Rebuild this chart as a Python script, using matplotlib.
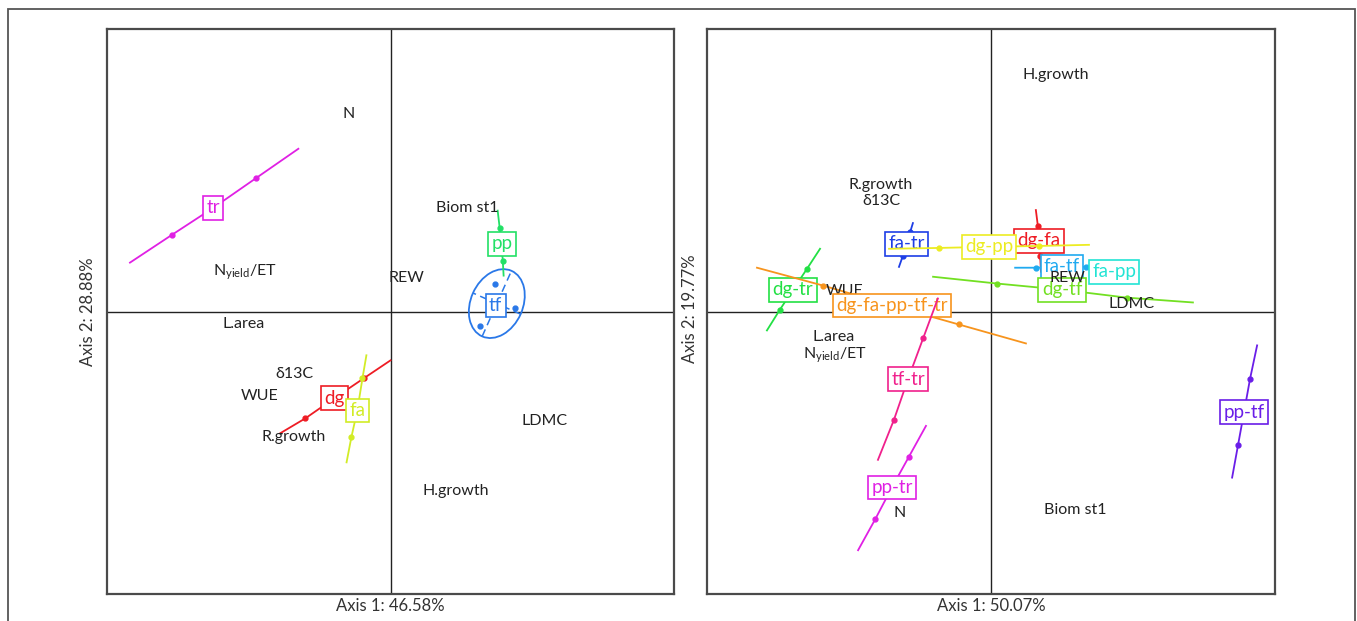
import matplotlib
matplotlib.use("Agg")
import matplotlib.pyplot as plt
from matplotlib.patches import Ellipse, Rectangle
import numpy as np

plt.rcParams['font.family'] = ['Lato', 'DejaVu Sans']
plt.rcParams['mathtext.default'] = 'regular'

# ---------------- Left panel (single species) ----------------
left_axis_x = "Axis 1: 46.58%"
left_axis_y = "Axis 2: 28.88%"

left_vars = ["N", "N$_{yield}$/ET", "REW", "L.area", "\u03b413C", "WUE",
             "R.growth", "LDMC", "H.growth", "Biom st1"]
left_var_x = [-0.148, -0.512, 0.057, -0.519, -0.339, -0.463, -0.343, 0.544, 0.230, 0.269]
left_var_y = [0.700, 0.138, 0.120, -0.046, -0.223, -0.300, -0.445, -0.389, -0.636, 0.367]

# each segment: start, dot, centre, dot, end
left_groups = ["tr", "dg", "fa", "pp"]
left_colors = ["#e020e4", "#ee1c24", "#d2ec26", "#22e066"]
left_seg_x = [
    [-0.919, -0.770, -0.625, -0.473, -0.325],
    [-0.389, -0.300, -0.198, -0.095, 0.000],
    [-0.155, -0.138, -0.117, -0.099, -0.085],
    [0.378, 0.385, 0.392, 0.396, 0.399],
]
left_seg_y = [
    [0.173, 0.272, 0.367, 0.473, 0.576],
    [-0.431, -0.378, -0.307, -0.237, -0.173],
    [-0.534, -0.445, -0.350, -0.237, -0.155],
    [0.357, 0.297, 0.240, 0.180, 0.127],
]

# tf: dispersion ellipse with its three points
tf_label = "tf"
tf_color = "#2a78e8"
tf_center = (0.375, 0.028)
tf_axes = (0.254, 0.184)
tf_angle = 66
tf_pts_x = [0.367, 0.438, 0.314]
tf_pts_y = [0.099, 0.014, -0.053]
tf_label_xy = (0.371, 0.021)

# ---------------- Right panel (species mixtures) ----------------
right_axis_x = "Axis 1: 50.07%"
right_axis_y = "Axis 2: 19.77%"

right_vars = ["H.growth", "R.growth", "\u03b413C", "WUE", "REW", "LDMC",
              "L.area", "N$_{yield}$/ET", "N", "Biom st1"]
right_var_x = [0.229, -0.387, -0.387, -0.514, 0.268, 0.496, -0.553, -0.549, -0.320, 0.296]
right_var_y = [0.838, 0.447, 0.391, 0.074, 0.120, 0.025, -0.092, -0.155, -0.715, -0.704]

right_groups = ["fa-tr", "dg-fa", "dg-pp", "fa-tf", "fa-pp", "dg-tf", "dg-tr",
                "dg-fa-pp-tf-tr", "tf-tr", "pp-tr", "pp-tf"]
right_colors = ["#1e3ee6", "#ee1c24", "#ecec22", "#20aaf0", "#22e4d4", "#72e022",
                "#22e044", "#f7941d", "#f0208c", "#e020e4", "#6a1ee8"]
right_seg_x = [
    [-0.275, -0.285, -0.296, -0.310, -0.324],
    [0.158, 0.165, 0.169, 0.173, 0.176],
    [-0.359, -0.183, -0.007, 0.169, 0.345],
    [0.085, 0.158, 0.250, 0.335, 0.415],
    [0.370, 0.400, 0.433, 0.466, 0.500],
    [-0.204, 0.021, 0.250, 0.479, 0.711],
    [-0.602, -0.648, -0.697, -0.743, -0.789],
    [-0.824, -0.592, -0.349, -0.113, 0.123],
    [-0.187, -0.239, -0.292, -0.342, -0.398],
    [-0.229, -0.289, -0.349, -0.408, -0.468],
    [0.937, 0.912, 0.891, 0.870, 0.849],
]
right_seg_y = [
    [0.313, 0.280, 0.239, 0.198, 0.158],
    [0.359, 0.303, 0.250, 0.197, 0.141],
    [0.222, 0.225, 0.229, 0.232, 0.236],
    [0.155, 0.155, 0.158, 0.158, 0.158],
    [0.141, 0.141, 0.141, 0.141, 0.141],
    [0.123, 0.099, 0.077, 0.049, 0.032],
    [0.222, 0.151, 0.077, 0.007, -0.067],
    [0.155, 0.092, 0.021, -0.046, -0.113],
    [0.046, -0.095, -0.239, -0.384, -0.525],
    [-0.405, -0.514, -0.623, -0.736, -0.845],
    [-0.120, -0.239, -0.356, -0.472, -0.588],
]

W, H = 1357, 621
fig = plt.figure(figsize=(W / 100, H / 100), dpi=100)
fig.patch.set_facecolor("white")

# outer frame around both panels
fig.patches.append(Rectangle((8 / W, -0.05), (1355 - 8) / W, (H - 9) / H + 0.05,
                             transform=fig.transFigure, fill=False,
                             ec="#555555", lw=1.3, zorder=0))

ax_l = fig.add_axes([107 / W, (H - 594) / H, 567 / W, 565 / H])
ax_r = fig.add_axes([707 / W, (H - 594) / H, 568 / W, 565 / H])

BOX_FS = 13.5
VAR_FS = 11.5
AXIS_FS = 12


def style_panel(ax, xlabel, ylabel, ylab_x, ylab_y):
    ax.set_xlim(-1, 1)
    ax.set_ylim(-1, 1)
    ax.set_xticks([])
    ax.set_yticks([])
    for sp in ax.spines.values():
        sp.set_color("#4a4a4a")
        sp.set_linewidth(1.6)
    ax.axhline(0, color="#222222", lw=1.0, zorder=1)
    ax.axvline(0, color="#222222", lw=1.0, zorder=1)
    ax.text(0.5, -0.022, xlabel, transform=ax.transAxes, ha="center", va="center",
            fontsize=AXIS_FS, color="#333333")
    ax.text(ylab_x, ylab_y, ylabel, transform=ax.transAxes, ha="center", va="center",
            rotation=90, fontsize=AXIS_FS, color="#333333")


def draw_vars(ax, names, xs, ys):
    for n, x, y in zip(names, xs, ys):
        ax.text(x, y, n, ha="center", va="center", fontsize=VAR_FS,
                color="#222222", zorder=10)


def draw_group(ax, name, color, xs, ys, z):
    ax.plot(xs, ys, color=color, lw=1.3, zorder=z)
    ax.plot([xs[1], xs[3]], [ys[1], ys[3]], "o", color=color, ms=3.5, zorder=z)
    ax.text(xs[2], ys[2], name, ha="center", va="center", fontsize=BOX_FS,
            color=color, zorder=z + 0.5,
            bbox=dict(boxstyle="square,pad=0.18", fc="white", ec=color, lw=1.2))


style_panel(ax_l, left_axis_x, left_axis_y, -0.034, 0.5)
style_panel(ax_r, right_axis_x, right_axis_y, -0.030, 0.505)

# left panel groups
for i, (g, c, xs, ys) in enumerate(zip(left_groups, left_colors, left_seg_x, left_seg_y)):
    draw_group(ax_l, g, c, xs, ys, 3 + i)

ell = Ellipse(tf_center, tf_axes[0], tf_axes[1], angle=tf_angle,
              fill=False, ec=tf_color, lw=1.3, zorder=3)
ax_l.add_patch(ell)
a = np.deg2rad(tf_angle)
cx, cy = tf_center
ra, rb = tf_axes[0] / 2, tf_axes[1] / 2
ax_l.plot([cx - ra * np.cos(a), cx + ra * np.cos(a)],
          [cy - ra * np.sin(a), cy + ra * np.sin(a)],
          color=tf_color, lw=1.1, ls=(0, (5, 3)), zorder=3)
ax_l.plot([cx - rb * np.cos(a + np.pi / 2), cx + rb * np.cos(a + np.pi / 2)],
          [cy - rb * np.sin(a + np.pi / 2), cy + rb * np.sin(a + np.pi / 2)],
          color=tf_color, lw=1.1, ls=(0, (5, 3)), zorder=3)
ax_l.plot(tf_pts_x, tf_pts_y, "o", color=tf_color, ms=3.5, zorder=3)
ax_l.text(tf_label_xy[0], tf_label_xy[1], tf_label, ha="center", va="center",
          fontsize=BOX_FS, color=tf_color, zorder=8,
          bbox=dict(boxstyle="square,pad=0.18", fc="white", ec=tf_color, lw=1.2))

draw_vars(ax_l, left_vars, left_var_x, left_var_y)

# right panel groups
for i, (g, c, xs, ys) in enumerate(zip(right_groups, right_colors, right_seg_x, right_seg_y)):
    draw_group(ax_r, g, c, xs, ys, 3 + i)

draw_vars(ax_r, right_vars, right_var_x, right_var_y)

fig.savefig("out.png", dpi=100, facecolor="white")
